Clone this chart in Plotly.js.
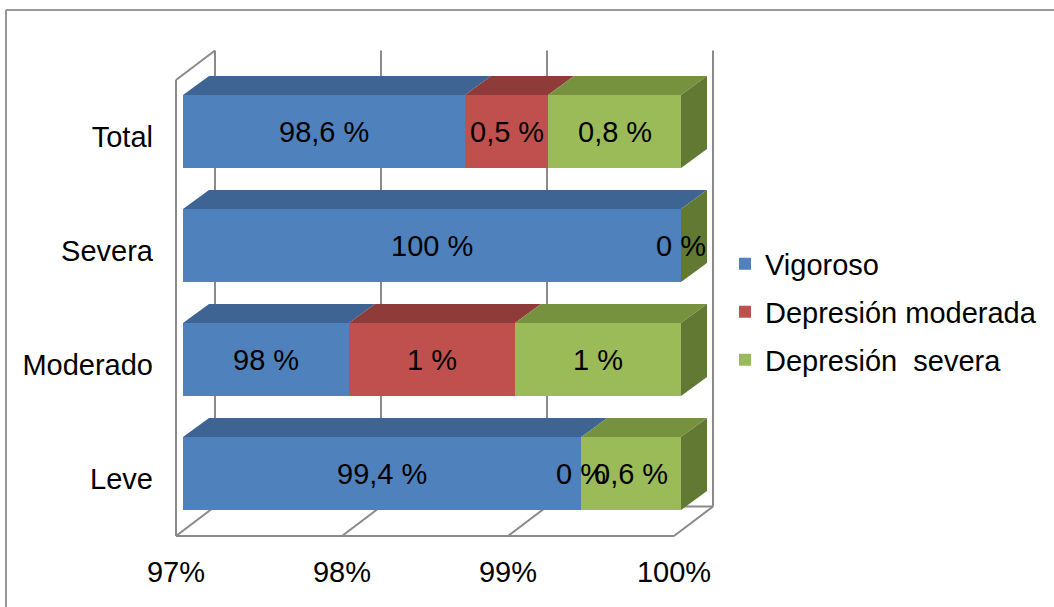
<!DOCTYPE html>
<html><head><meta charset="utf-8">
<script src="https://cdn.plot.ly/plotly-3.0.1.min.js"></script>
<style>html,body{margin:0;padding:0;background:#fff;overflow:hidden}#chart{width:1054px;height:607px}</style>
</head><body><div id="chart"></div>
<script>
// ---------- data ----------
const categories = ['Leve', 'Moderado', 'Severa', 'Total'];
const seriesNames = ['Vigoroso', 'Depresión moderada', 'Depresión\u00A0 severa'];
const vigoroso = [99.4, 98, 100, 98.6];
const depModerada = [0, 1, 0, 0.5];
const depSevera = [0.6, 1, 0, 0.8];
const xTicks = [97, 98, 99, 100];

// ---------- styling ----------
const FONT = 'Liberation Sans, Arial, sans-serif';
const FS = 29;
const frontColors = ['#4F81BD', '#C0504D', '#9BBB59'];
const topColors = ['#3D6492', '#8E3B3A', '#77923F'];
const sideColor = '#627934';
const gridColor = '#8a8a8a';

// geometry (pixels)
const W = 1054, H = 607;
const L = 168, R = 720, T = 44, B = 544;
const plotW = R - L, plotH = B - T;
const pxPct = 166, catPx = 114;
const frontX0 = 176, frontYbot = 536;      // front plane: 97% / category -0.5
const barX0 = 183, barYbot = 530.5;        // bar front faces
const barDepth = [26, 19], wallDepth = [39, 29.5];
const xmin = xTicks[0], xmax = xTicks[xTicks.length - 1];

const xRange = [xmin + (L - frontX0) / pxPct, xmin + (R - frontX0) / pxPct];
const yRange = [(frontYbot - B) / catPx - 0.5, (frontYbot - T) / catPx - 0.5];
const x2Dom = [(barX0 - L) / plotW, 1];
const x2Range = [xmin, xmin + (R - barX0) / pxPct];
const y2Dom = [(B - barYbot) / plotH, 1];
const y2Range = [-0.5, -0.5 + (barYbot - T) / catPx];
const bargap = 0.36, halfBar = (1 - bargap) / 2;

const series = [vigoroso, depModerada, depSevera];
const traces = series.map((vals, i) => ({
  type: 'bar', orientation: 'h', name: seriesNames[i],
  y: categories, x: vals, xaxis: 'x2', yaxis: 'y2',
  marker: {color: frontColors[i], line: {width: 0}},
  hoverinfo: 'skip', legend: i === 0 ? 'legend' : 'legend' + (i + 1)
}));

const shapes = [];
const line = (x0, y0, x1, y1) => shapes.push({type: 'line', xref: 'x', yref: 'y', x0, y0, x1, y1,
  layer: 'below', line: {color: gridColor, width: 2}});
const dxW = wallDepth[0] / pxPct, dyW = wallDepth[1] / catPx;
const yBot = -0.5, yTop = categories.length - 0.5;
// left wall
line(xmin, yBot, xmin, yTop);
line(xmin, yTop, xmin + dxW, yTop + dyW);
// floor
line(xmin, yBot, xmax, yBot);
line(xmin + dxW, yBot + dyW, xmax + dxW, yBot + dyW);
xTicks.forEach(t => {
  line(t, yBot, t + dxW, yBot + dyW);               // floor diagonal
  line(t + dxW, yBot + dyW, t + dxW, yTop + dyW);   // back wall gridline
});

// 3D faces + labels
const dxB = barDepth[0] / pxPct, dyB = barDepth[1] / catPx;
const annotations = [];
const seen = {};
const fmt = v => String(v).replace('.', ',') + ' %';
categories.forEach((cat, c) => {
  const total = series.reduce((s, arr) => s + arr[c], 0);
  let cum = 0;
  const yt = c + halfBar, yb = c - halfBar;
  series.forEach((arr, i) => {
    const a = cum, b = cum + arr[c] / total * 100;
    cum = b;
    const a0 = Math.max(a, xmin);
    if (b > a0) {
      shapes.push({type: 'path', xref: 'x2', yref: 'y2', layer: 'above', line: {width: 0},
        fillcolor: topColors[i],
        path: `M${a0},${yt}L${b},${yt}L${b + dxB},${yt + dyB}L${a0 + dxB},${yt + dyB}Z`});
    }
    const mid = (Math.max(a, xmin) + b) / 2;
    const key = mid.toFixed(4) + '|' + c + '|' + fmt(arr[c]);
    if (!seen[key]) {
      seen[key] = 1;
      annotations.push({xref: 'x2', yref: 'y2', x: mid, y: c, text: fmt(arr[c]), showarrow: false,
        font: {family: FONT, size: FS, color: '#000'}, xanchor: 'center', yanchor: 'middle'});
    }
  });
  shapes.push({type: 'path', xref: 'x2', yref: 'y2', layer: 'above', line: {width: 0},
    fillcolor: sideColor,
    path: `M${xmax},${yt}L${xmax + dxB},${yt + dyB}L${xmax + dxB},${yb + dyB}L${xmax},${yb}Z`});
});

// outer chart border (paper)
const px2paperX = p => (p - L) / plotW, px2paperY = p => (B - p) / plotH;
shapes.push({type: 'line', xref: 'paper', yref: 'paper', x0: px2paperX(6), y0: px2paperY(10),
  x1: px2paperX(W + 5), y1: px2paperY(10), line: {color: '#989898', width: 2}});
shapes.push({type: 'line', xref: 'paper', yref: 'paper', x0: px2paperX(6), y0: px2paperY(10),
  x1: px2paperX(6), y1: px2paperY(H + 5), line: {color: '#989898', width: 2}});

const legendBase = (yPx) => ({x: px2paperX(725), y: px2paperY(yPx), xanchor: 'left', yanchor: 'middle',
  bgcolor: 'rgba(0,0,0,0)', borderwidth: 0, font: {family: FONT, size: FS, color: '#000'}});

const layout = {
  width: W, height: H, paper_bgcolor: '#fff', plot_bgcolor: 'rgba(0,0,0,0)',
  margin: {l: L, r: W - R, t: T, b: H - B, pad: 0},
  barmode: 'stack', barnorm: 'percent', bargap: bargap,
  font: {family: FONT, size: FS, color: '#000'},
  showlegend: true,
  legend: legendBase(264), legend2: legendBase(312), legend3: legendBase(360),
  xaxis: {domain: [0, 1], range: xRange, tickvals: xTicks, ticktext: xTicks.map(t => t + '%'),
    showgrid: false, zeroline: false, showline: false, ticks: '', ticklabelstandoff: 8,
    tickfont: {family: FONT, size: FS, color: '#000'}, fixedrange: true},
  yaxis: {domain: [0, 1], type: 'category', categoryarray: categories, range: yRange,
    showgrid: false, zeroline: false, showline: false, ticks: '', ticklabelstandoff: 14,
    tickfont: {family: FONT, size: FS, color: '#000'}, fixedrange: true},
  xaxis2: {domain: x2Dom, range: x2Range, anchor: 'y2', visible: false, fixedrange: true},
  yaxis2: {domain: y2Dom, range: y2Range, anchor: 'x2', type: 'category', categoryarray: categories,
    visible: false, fixedrange: true},
  shapes, annotations
};
Plotly.newPlot('chart', traces, layout, {staticPlot: true, displayModeBar: false});
</script></body></html>
